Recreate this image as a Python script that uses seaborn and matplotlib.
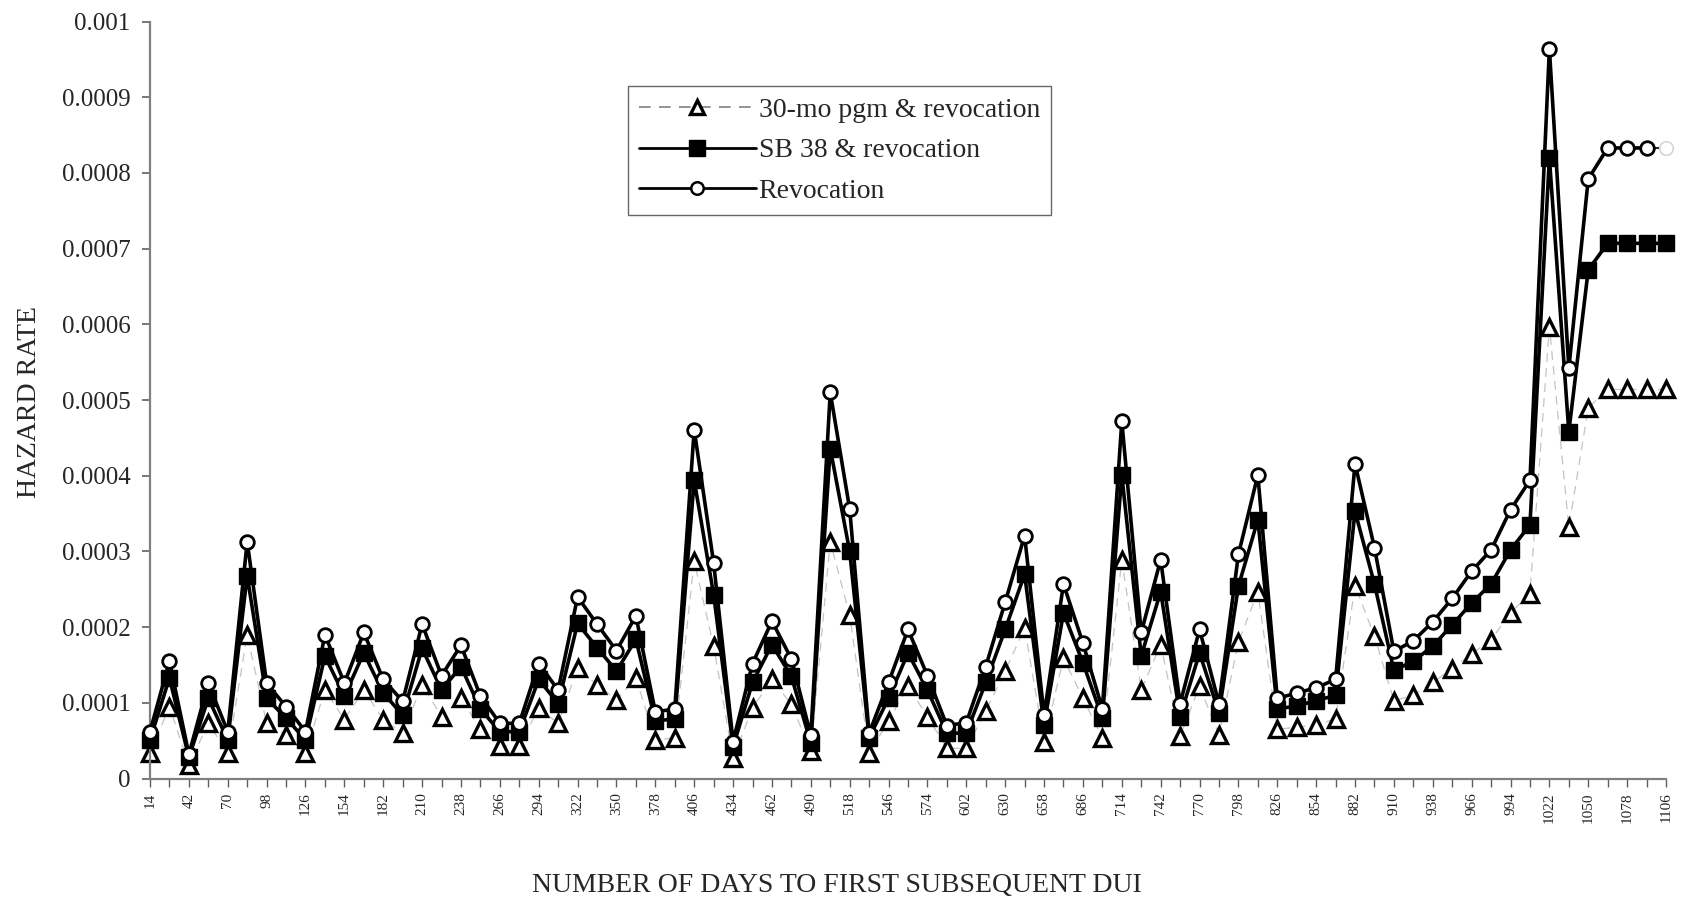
import numpy as np
import pandas as pd
import matplotlib
matplotlib.use("Agg")
import matplotlib.pyplot as plt
import seaborn as sns
from matplotlib.lines import Line2D

# ---- data ----
days = list(range(14, 1107, 14))          # 79 categories (14-day steps)
tick_label_days = days[::2]               # labelled every other tick

revocation = [0.62, 1.55, 0.32, 1.26, 0.62, 3.13, 1.26, 0.95, 0.62, 1.90,
              1.26, 1.93, 1.31, 1.02, 2.04, 1.36, 1.76, 1.09, 0.73, 0.73,
              1.52, 1.17, 2.40, 2.04, 1.69, 2.15, 0.88, 0.92, 4.61, 2.85,
              0.49, 1.52, 2.08, 1.58, 0.57, 5.10, 3.56, 0.60, 1.27, 1.97,
              1.36, 0.70, 0.74, 1.48, 2.33, 3.21, 0.84, 2.57, 1.79, 0.92,
              4.72, 1.93, 2.89, 0.99, 1.97, 0.99, 2.96, 4.01, 1.06, 1.13,
              1.20, 1.31, 4.16, 3.05, 1.68, 1.82, 2.07, 2.38, 2.74, 3.02,
              3.55, 3.94, 9.64, 5.42, 7.92, 8.33, 8.33, 8.33, 8.33]

sb38 = [0.51, 1.33, 0.28, 1.06, 0.51, 2.68, 1.06, 0.80, 0.51, 1.62,
        1.09, 1.66, 1.13, 0.84, 1.72, 1.17, 1.48, 0.92, 0.62, 0.62,
        1.31, 0.99, 2.05, 1.73, 1.42, 1.84, 0.76, 0.79, 3.94, 2.43,
        0.42, 1.27, 1.77, 1.35, 0.47, 4.36, 3.00, 0.54, 1.06, 1.66,
        1.17, 0.60, 0.60, 1.27, 1.97, 2.70, 0.71, 2.19, 1.53, 0.80,
        4.01, 1.62, 2.47, 0.82, 1.66, 0.87, 2.54, 3.42, 0.92, 0.96,
        1.03, 1.10, 3.53, 2.57, 1.43, 1.55, 1.75, 2.03, 2.32, 2.57,
        3.02, 3.35, 8.20, 4.58, 6.72, 7.07, 7.07, 7.07, 7.07]

pgm30 = [0.34, 0.95, 0.18, 0.73, 0.34, 1.90, 0.73, 0.58, 0.34, 1.17,
         0.78, 1.17, 0.78, 0.60, 1.24, 0.82, 1.06, 0.65, 0.43, 0.43,
         0.93, 0.73, 1.46, 1.24, 1.04, 1.33, 0.51, 0.54, 2.87, 1.75,
         0.27, 0.93, 1.31, 0.98, 0.36, 3.13, 2.16, 0.34, 0.76, 1.22,
         0.82, 0.40, 0.40, 0.89, 1.42, 1.99, 0.49, 1.59, 1.06, 0.54,
         2.89, 1.17, 1.77, 0.56, 1.22, 0.58, 1.80, 2.47, 0.65, 0.68,
         0.71, 0.79, 2.55, 1.88, 1.03, 1.10, 1.27, 1.45, 1.65, 1.83,
         2.19, 2.44, 5.97, 3.32, 4.90, 5.14, 5.14, 5.14, 5.14]

scale = 1e-4
series_names = ["30-mo pgm & revocation", "SB 38 & revocation", "Revocation"]
y_ticks = [0, 0.0001, 0.0002, 0.0003, 0.0004, 0.0005, 0.0006, 0.0007, 0.0008, 0.0009, 0.001]
y_tick_labels = ["0", "0.0001", "0.0002", "0.0003", "0.0004", "0.0005",
                 "0.0006", "0.0007", "0.0008", "0.0009", "0.001"]

df = pd.DataFrame({
    "day": days,
    "pgm30": np.array(pgm30) * scale,
    "sb38": np.array(sb38) * scale,
    "rev": np.array(revocation) * scale,
})

# ---- style ----
sns.set_theme(style="white")
plt.rcParams["font.family"] = ["Liberation Serif", "DejaVu Serif"]

fig = plt.figure(figsize=(16.84, 9.02), dpi=100)
ax = fig.add_axes([150 / 1684, 1 - 778.6 / 902, (1666 - 150) / 1684, (778.6 - 21.5) / 902])

tri_kw = dict(marker="^", markersize=11.5, markerfacecolor="white",
              markeredgecolor="black", markeredgewidth=2.4)
sq_kw = dict(marker="s", markersize=12, markerfacecolor="black",
             markeredgecolor="black", markeredgewidth=1)
circ_kw = dict(marker="o", markersize=9.8, markerfacecolor="white",
               markeredgecolor="black", markeredgewidth=2.0)

# 30-mo program & revocation: thin gray dashed line, open triangles
sns.lineplot(data=df, x="day", y="pgm30", ax=ax, estimator=None, sort=False,
             color="#c4c4c4", linewidth=0.9, linestyle=(0, (7, 5)),
             zorder=2, clip_on=False, **tri_kw)

# SB 38 & revocation: black line, filled squares
sns.lineplot(data=df, x="day", y="sb38", ax=ax, estimator=None, sort=False,
             color="black", linewidth=2.6, zorder=3, clip_on=False, **sq_kw)

# Revocation: black line, open circles (final point drawn faint as in original)
df_main = df.iloc[:-1]
df_tail = df.iloc[-2:]
sns.lineplot(data=df_main, x="day", y="rev", ax=ax, estimator=None, sort=False,
             color="black", linewidth=2.6, zorder=4, clip_on=False, **circ_kw)
sns.lineplot(data=df_tail, x="day", y="rev", ax=ax, estimator=None, sort=False,
             color="black", linewidth=1.2, zorder=3.9, clip_on=False)
ax.plot(df_tail["day"].iloc[-1:], df_tail["rev"].iloc[-1:], marker="o", markersize=9.8,
        markerfacecolor="white", markeredgecolor="#cfcfcf", markeredgewidth=1.0,
        linestyle="none", zorder=4, clip_on=False)

# ---- axes ----
ax.set_xlim(days[0], days[-1])
ax.set_ylim(0, 0.001)
ax.set_yticks(y_ticks)
ax.set_yticklabels(y_tick_labels, fontsize=18)
ax.set_xticks(days)
ax.set_xticklabels([str(d) if d in tick_label_days else "" for d in days],
                   rotation=90, fontsize=11)
ax.tick_params(axis="y", which="major", left=True, length=6, width=1.2,
               color="#606060", pad=8)
ax.tick_params(axis="x", which="major", bottom=True, length=6, width=1.0,
               color="#606060", pad=4)
ax.set_xlabel("")
ax.set_ylabel("")
for side in ["top", "right"]:
    ax.spines[side].set_visible(False)
for side in ["left", "bottom"]:
    ax.spines[side].set_color("#808080")
    ax.spines[side].set_linewidth(1.6)
ax.grid(False)

fig.text(30 / 1684, 1 - 402 / 902, "HAZARD RATE", rotation=90, ha="center",
         va="center", fontsize=20)
fig.text(0.497, 1 - 886 / 902, "NUMBER OF DAYS TO FIRST SUBSEQUENT DUI",
         ha="center", va="center", fontsize=20)

# ---- legend ----
handles = [
    Line2D([], [], color="#808080", linewidth=1.2, linestyle=(0, (7, 5)),
           marker="^", markersize=10, markerfacecolor="white",
           markeredgecolor="black", markeredgewidth=2.4),
    Line2D([], [], color="black", linewidth=2, marker="s", markersize=11,
           markerfacecolor="black", markeredgecolor="black"),
    Line2D([], [], color="black", linewidth=2, marker="o", markersize=9,
           markerfacecolor="white", markeredgecolor="black", markeredgewidth=1.8),
]
leg = ax.legend(handles, series_names, loc="upper left",
                bbox_to_anchor=((628 - 150) / 1516, (778.6 - 86) / 757.1),
                frameon=True, fancybox=False, fontsize=20, handlelength=4.2,
                handletextpad=0.1, borderpad=0.4, labelspacing=0.55,
                borderaxespad=0)
leg.get_frame().set_edgecolor("#404040")
leg.get_frame().set_linewidth(1.0)

fig.savefig("out.png", dpi=100, facecolor="white")
